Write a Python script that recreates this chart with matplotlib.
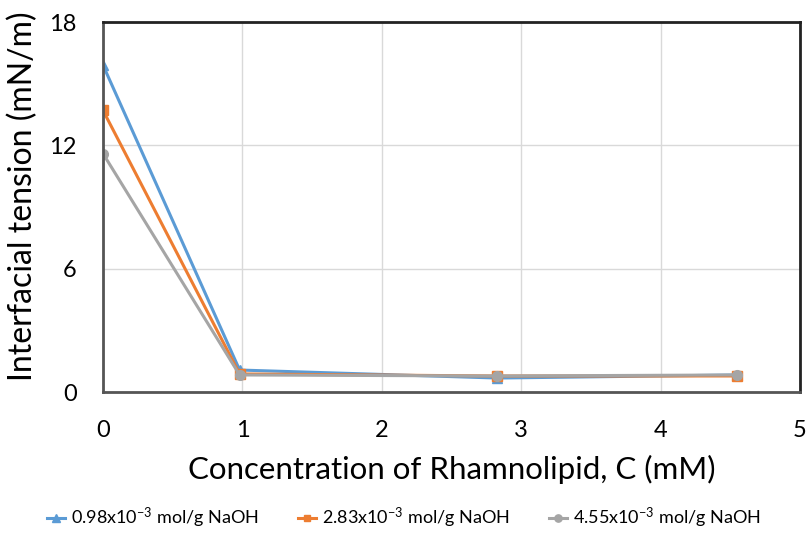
import matplotlib.pyplot as plt

# Interfacial tension vs rhamnolipid concentration at three NaOH loadings
conc = [0, 0.98, 2.83, 4.55]
ift_098 = [15.9, 1.07, 0.68, 0.83]
ift_283 = [13.7, 0.88, 0.78, 0.78]
ift_455 = [11.6, 0.83, 0.78, 0.83]
labels = ["0.98x10$^{-3}$ mol/g NaOH",
          "2.83x10$^{-3}$ mol/g NaOH",
          "4.55x10$^{-3}$ mol/g NaOH"]

plt.rcParams['font.family'] = ['Lato', 'DejaVu Sans']
plt.rcParams['mathtext.fontset'] = 'custom'
plt.rcParams['mathtext.rm'] = 'Lato'
plt.rcParams['mathtext.it'] = 'Lato'

fig = plt.figure(figsize=(8.08, 5.33), dpi=100)
ax = fig.add_axes([0.1275, 0.2645, 0.8625, 0.6942])

ax.plot(conc, ift_098, color='#5b9bd5', marker='^', markersize=7.5, linewidth=2.2, label=labels[0])
ax.plot(conc, ift_283, color='#ed7d31', marker='s', markersize=6.5, linewidth=2.2, label=labels[1])
ax.plot(conc, ift_455, color='#a5a5a5', marker='o', markersize=7, linewidth=2.2, label=labels[2])

ax.set_xlim(0, 5)
ax.set_ylim(0, 18)
ax.set_xticks([0, 1, 2, 3, 4, 5])
ax.set_yticks([0, 6, 12, 18])
ax.grid(True, color='#d9d9d9', linewidth=1)
ax.set_axisbelow(True)
ax.tick_params(length=0, labelsize=17, colors='#000000')
ax.tick_params(axis='x', pad=20)
ax.tick_params(axis='y', pad=19)
for s in ax.spines.values():
    s.set_linewidth(2)
    s.set_color('#222222')
ax.spines['left'].set_color('#555555')
ax.spines['bottom'].set_color('#555555')

ax.set_xlabel("Concentration of Rhamnolipid, C (mM)", fontsize=22.5, labelpad=10)
ax.set_ylabel("Interfacial tension (mN/m)", fontsize=23)
ax.yaxis.set_label_coords(-0.093, 0.53)

fig.legend(loc='lower center', bbox_to_anchor=(0.5, -0.025), ncol=3, frameon=False,
           fontsize=13, handlelength=1.0, handletextpad=0.3, columnspacing=2.2,
           markerscale=0.75)

fig.savefig("out.png", dpi=100)
